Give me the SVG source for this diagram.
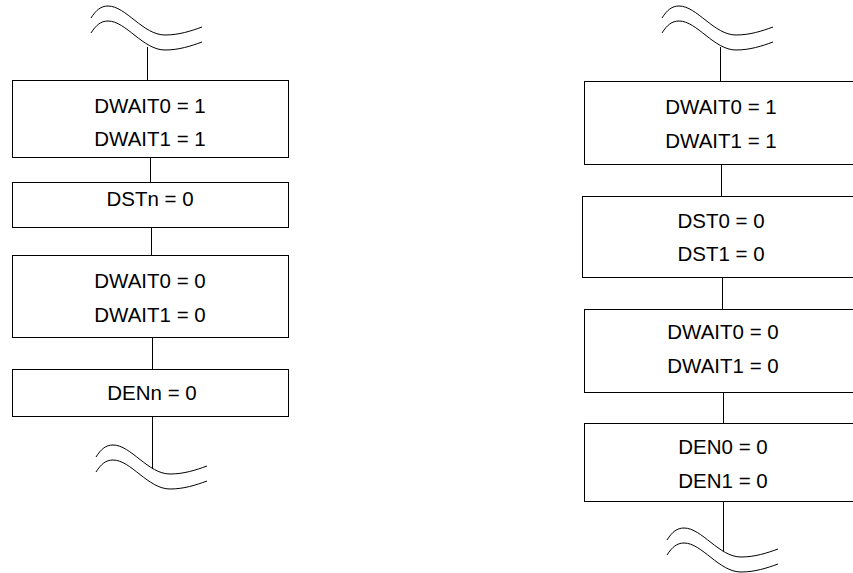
<svg xmlns="http://www.w3.org/2000/svg" xmlns:xlink="http://www.w3.org/1999/xlink" width="853" height="573" viewBox="0 0 853 573">
<style>
.box{fill:#fff;stroke:#000;stroke-width:1}
.ln{stroke:#000;stroke-width:1;fill:none}
.brk{stroke:#000;stroke-width:1;fill:none}
text{font-family:"Liberation Sans",Arial,sans-serif;font-size:20.5px;fill:#000;text-anchor:middle}
</style>
<defs>
<g id="brkshape">
<path class="brk" d="M0,0 C5,-8 10,-12 17,-12 C35,-12 52,17 74,17 C88,17 100,13 111,9"/>
<path class="brk" d="M0,15 C5,7 10,3 17,3 C35,3 52,32 74,32 C88,32 100,28 111,24"/>
</g>
</defs>
<rect width="853" height="573" fill="#fff"/>
<g id="connectors">
<line class="ln" x1="147.5" y1="47" x2="147.5" y2="80"/>
<line class="ln" x1="150.5" y1="157" x2="150.5" y2="182"/>
<line class="ln" x1="151.5" y1="227" x2="151.5" y2="255"/>
<line class="ln" x1="152.5" y1="337" x2="152.5" y2="369"/>
<line class="ln" x1="152.5" y1="417" x2="152.5" y2="469"/>
<line class="ln" x1="720.5" y1="47" x2="720.5" y2="81"/>
<line class="ln" x1="721.5" y1="164" x2="721.5" y2="196"/>
<line class="ln" x1="722.5" y1="277" x2="722.5" y2="309"/>
<line class="ln" x1="723.5" y1="392" x2="723.5" y2="423"/>
<line class="ln" x1="723.5" y1="501" x2="723.5" y2="551"/>
</g>
<g id="break-top-left"><use xlink:href="#brkshape" transform="translate(91,18)"/></g>
<g id="break-bottom-left"><use xlink:href="#brkshape" transform="translate(96,457)"/></g>
<g id="break-top-right"><use xlink:href="#brkshape" transform="translate(662,18)"/></g>
<g id="break-bottom-right"><use xlink:href="#brkshape" transform="translate(667,540)"/></g>
<g id="L1"><rect class="box" x="12.5" y="80.5" width="276" height="77"/><text x="150" y="112.5">DWAIT0 = 1</text><text x="150" y="145.5">DWAIT1 = 1</text></g>
<g id="L2"><rect class="box" x="12.5" y="182.5" width="276" height="45"/><text x="150" y="205.5">DSTn = 0</text></g>
<g id="L3"><rect class="box" x="12.5" y="255.5" width="276" height="82"/><text x="150" y="287.5">DWAIT0 = 0</text><text x="150" y="321.5">DWAIT1 = 0</text></g>
<g id="L4"><rect class="box" x="12.5" y="369.5" width="276" height="47"/><text x="152" y="399.5">DENn = 0</text></g>
<g id="R1"><rect class="box" x="584.5" y="81.5" width="280" height="83"/><text x="721" y="113.5">DWAIT0 = 1</text><text x="721" y="147.5">DWAIT1 = 1</text></g>
<g id="R2"><rect class="box" x="582.5" y="196.5" width="280" height="81"/><text x="721" y="227.5">DST0 = 0</text><text x="721" y="260.5">DST1 = 0</text></g>
<g id="R3"><rect class="box" x="584.5" y="309.5" width="280" height="83"/><text x="723" y="338.5">DWAIT0 = 0</text><text x="723" y="372.5">DWAIT1 = 0</text></g>
<g id="R4"><rect class="box" x="584.5" y="423.5" width="280" height="78"/><text x="723" y="453.5">DEN0 = 0</text><text x="723" y="487.5">DEN1 = 0</text></g>
</svg>
